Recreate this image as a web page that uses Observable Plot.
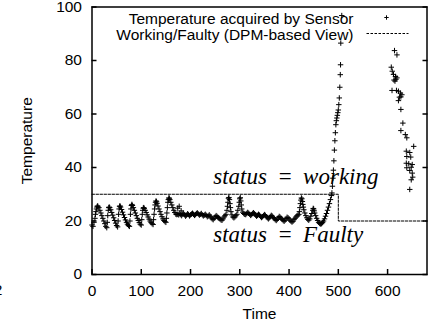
<!DOCTYPE html>
<html>
<head>
<meta charset="utf-8">
<script src="https://cdn.jsdelivr.net/npm/d3@7"></script>
<script src="https://cdn.jsdelivr.net/npm/@observablehq/plot@0.6"></script>
<style>
  html, body { margin: 0; padding: 0; background: white; }
</style>
</head>
<body>
<div id="chart"></div>
<script>
// ---- data ----
const sensorTime = [
  0,2,4,6,7,8,9,10,11,12,14,16,18,20,22,24,26,28,30,
  31,32,33,34,35,36,38,40,42,44,46,48,50,52,
  53,54,55,56,57,58,60,62,64,66,68,70,72,74,76,
  77,78,79,80,81,82,84,86,88,90,92,94,96,98,100,
  101,102,103,104,105,106,108,110,112,114,116,118,120,122,124,
  125,126,127,128,129,130,131,132,134,136,138,140,142,144,146,148,150,
  151,152,153,154,155,156,157,158,160,162,164,166,168,170,172,
  174,177,181,
  174,176,178,180,182,184,186,188,190,192,194,196,198,200,202,204,206,208,210,212,214,216,218,220,222,224,226,228,230,232,234,236,238,240,242,244,246,248,250,252,254,256,258,260,262,264,266,268,270,
  272,274,275,276,277,278,279,280,281,282,284,286,288,290,292,294,296,298,299,300,301,302,303,304,306,308,310,
  312,314,316,318,320,322,324,326,328,330,332,334,336,338,340,342,344,346,348,350,352,354,356,358,360,362,364,366,368,370,372,374,376,378,380,382,384,386,388,390,392,394,396,398,400,402,404,406,408,410,412,414,416,418,420,
  421,422,423,424,425,426,427,428,429,430,432,434,436,438,440,442,444,446,448,449,450,451,452,454,456,458,460,462,464,466,468,470,472,474,476,478,480,482,484,486,487,
  488,489,490,491,492,493,494,495,496,497,498,499,500,501,502,503,504,504.5,505,507,
  614,619,607.5,609.5,612,616,619,613,615,617,609,618,622,626,629,624,627,622,627,
  631,627,636,639,653,638,645,639,647,638,643,650,648,639,645,650,651,648,645
];
const sensorTemp = [
  18.5,18,19.5,21,22.5,23.5,24.5,25.2,25.6,25.5,25,24,23,22,21,20,19,18,17.5,
  19.5,22,24,25,25.2,25,24.2,23.2,22.2,21.2,20.2,19.2,18.3,17.8,
  20,22.5,24.5,25.5,25.6,25.2,24.3,23.3,22.3,21.3,20.4,19.5,18.8,18.3,18,
  20,22.5,24.5,25.8,26.2,25.8,25,24,23,22,21,20.2,19.4,18.8,18.5,
  20.5,22.5,24,24.8,25,24.7,24,23.2,22.3,21.5,20.7,20,19.4,19,18.7,
  20.5,22.5,24.5,26,27,27.5,27.2,26.6,25.6,24.5,23.5,22.5,21.6,20.8,20.2,19.8,19.5,
  21,23,25,27,28,28.6,28.5,28,27,26,25,24,23.2,22.6,22.4,
  24.8,25.5,23.8,
  22.5,22.3,22.8,22.4,22,22.6,22.9,22.3,21.8,22.2,22.7,22.4,21.9,22.3,22.6,22.9,22.5,22.1,22.4,22.8,23,22.6,22.2,22.5,22.8,22.3,21.9,22.2,22.5,22.1,21.6,21.9,22.3,21.8,21.2,20.8,20.5,21,21.6,22,21.7,21.3,21,20.7,20.4,20.3,20.8,21.5,22,
  22.5,24,25.5,27,28.5,28.8,28,26.5,25,23.5,22.3,21.5,21.2,21.5,22,22.5,24,25.5,27,28.3,28.7,27.5,26,24.5,23.3,22.8,22.5,
  22.4,22.8,23.2,22.9,22.5,22.1,22.4,22.8,23.1,22.7,22.2,21.8,22.1,22.5,22.2,21.7,21.3,21.6,22,22.4,22.1,21.6,21.2,20.8,21.2,21.7,22.1,21.8,21.3,20.9,20.5,20.2,20.6,21.2,21.7,21.4,21,20.6,20.2,19.9,20.3,20.9,21.4,21.2,20.8,20.3,19.9,19.6,19.9,20.5,21,21.5,21.9,22.2,22.5,
  23.5,25,26.5,27.8,28.6,28.3,27.3,26.2,25.2,24.2,23,22,21.2,20.6,20.3,20.8,21.8,22.8,24,24.7,24.5,23.8,23,22,21,20.2,19.5,19.1,18.9,19,19.4,20,20.8,21.8,22.8,24,25.2,26.5,28,29.5,30.5,
  33,36,39,42.5,46.5,50,53,56,57.5,58.5,59.5,60.5,61.5,63.5,66,70,74.7,78.4,86.5,96.8,
  83.7,82.1,77.5,76,74.8,74,73.5,72.7,72.3,73,68.8,68.8,68.5,67.8,67.2,66.3,66.4,65,61.7,
  56.6,53.8,52.3,51.1,47.9,46.1,45.6,44.1,43.9,41.6,41.4,41.1,40.1,39.9,38.9,37.9,36.4,35.4,31.8
];
const statusTime = [0, 500, 680];
const statusLevel = [30, 20, 20];
const xTicks = [0, 100, 200, 300, 400, 500, 600];
const yTicks = [0, 20, 40, 60, 80, 100];
const annoLabels = ["status\u2009 =\u2009 working", "status\u2009 =\u2009 Faulty"];
const annoTime = [246, 246];
const annoTemp = [34, 12.1];
const legendLabels = ["Temperature acquired by Sensor", "Working/Faulty (DPM-based View)"];

// ---- build tables ----
const sensor = sensorTime.map((t, i) => ({t, v: sensorTemp[i]}));
const status = statusTime.map((t, i) => ({t, v: statusLevel[i]}));
const annos = annoLabels.map((label, i) => ({label, t: annoTime[i], v: annoTemp[i]}));

const W = 438, H = 324;
const mL = 91.5, mR = 11.5, mT = 6.5, mB = 50;
const sans = "'Liberation Sans', Arial, Helvetica, sans-serif";

const svg = Plot.plot({
  width: W, height: H,
  marginLeft: mL, marginRight: mR, marginTop: mT, marginBottom: mB,
  style: {fontFamily: sans, fontSize: "15.5px", color: "black", background: "white", overflow: "visible"},
  x: {domain: [0, 680]},
  y: {domain: [0, 100]},
  marks: [
    Plot.line(status, {x: "t", y: "v", curve: "step-after", stroke: "black", strokeWidth: 1, strokeDasharray: "2.5,1.5"}),
    Plot.dot(sensor, {x: "t", y: "v", symbol: "plus", r: 1.9, stroke: "black", strokeWidth: 1}),
    Plot.text(annos, {x: "t", y: "v", text: "label", textAnchor: "start", lineAnchor: "bottom",
      fontFamily: "'Liberation Serif', 'Times New Roman', serif", fontStyle: "italic", fontSize: 23, fill: "black"}),
    Plot.frame({stroke: "black", strokeWidth: 1.5}),
    Plot.axisX({ticks: xTicks, tickSize: -5, tickFormat: () => "", label: null, strokeWidth: 1.5}),
    Plot.axisX({ticks: xTicks, tickSize: 0, tickPadding: 10, label: "Time", labelAnchor: "center", labelOffset: 44, labelArrow: "none"}),
    Plot.axisY({ticks: yTicks, tickSize: -5, tickFormat: () => "", label: null, strokeWidth: 1.5}),
    Plot.axisY({ticks: yTicks, anchor: "right", tickSize: -5, tickFormat: () => "", label: null, strokeWidth: 1.5}),
    Plot.axisY({ticks: yTicks, tickSize: 0, tickPadding: 10, label: "Temperature", labelAnchor: "center", labelOffset: 71.5, labelArrow: "none"})
  ]
});

// ---- legend inside the frame (top-right), positioned relative to the plot frame ----
const right = W - mR;
const g = d3.select(svg).append("g").attr("font-family", sans).attr("font-size", 15.5).attr("fill", "black");
g.append("text").attr("x", right - 73).attr("y", mT + 17.5).attr("text-anchor", "end").text(legendLabels[0]);
g.append("text").attr("x", right - 73).attr("y", mT + 33).attr("text-anchor", "end").text(legendLabels[1]);
g.append("path").attr("d", "M-2.2,0H2.2M0,-2.2V2.2").attr("transform", `translate(${right - 40},${mT + 11})`)
  .attr("stroke", "black").attr("stroke-width", 1).attr("fill", "none");
g.append("line").attr("x1", right - 60).attr("x2", right - 18).attr("y1", mT + 27).attr("y2", mT + 27)
  .attr("stroke", "black").attr("stroke-width", 1).attr("stroke-dasharray", "2.5,1.5");
// stray partial glyph at the bottom-left edge of the reference
g.append("text").attr("x", -2).attr("y", 295).text("2");

document.getElementById("chart").append(svg);
</script>
</body>
</html>
